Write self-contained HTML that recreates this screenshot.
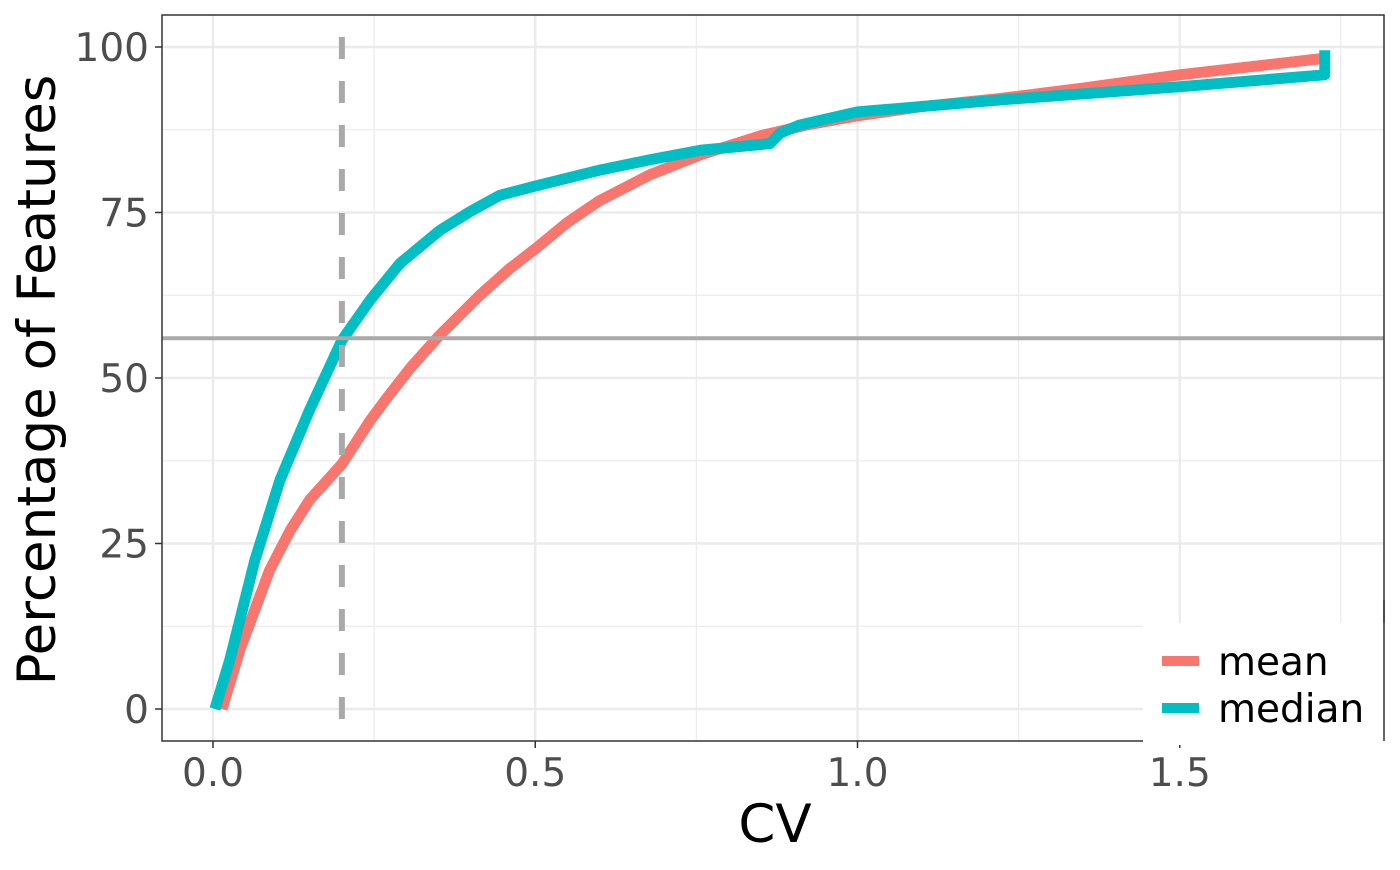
<!DOCTYPE html>
<html><head><meta charset="utf-8"><style>
body{margin:0;background:#fff;}
svg text{font-family:"DejaVu Sans","Liberation Sans",sans-serif;}
</style></head><body>
<svg width="1400" height="865" id="chart">
<g id="grid"></g>
<g id="lines"></g>
<rect x="162" y="15" width="1222" height="726" fill="none" stroke="#333" stroke-width="1.5"/>
<g id="axes"></g>
<g>
<rect x="1143" y="623" width="257" height="122" fill="#fff"/>
<line x1="1384" y1="600" x2="1384" y2="741" stroke="#333" stroke-width="1.5"/>
<line x1="1162" y1="661" x2="1199" y2="661" stroke="#F8766D" stroke-width="10"/>
<text x="1218" y="675" font-size="39">mean</text>
<line x1="1162" y1="708" x2="1199" y2="708" stroke="#00BFC4" stroke-width="10"/>
<text x="1218" y="722" font-size="39">median</text>
</g>
<text x="775" y="842" font-size="53" text-anchor="middle">CV</text>
<text transform="translate(55,380) rotate(-90)" font-size="53" text-anchor="middle">Percentage of Features</text>
</svg>
<script>
const xTicks=[0,0.5,1.0,1.5];
const xTickLabels=["0.0","0.5","1.0","1.5"];
const yTicks=[0,25,50,75,100];
const yTickLabels=["0","25","50","75","100"];
const meanCV=[0.014,0.042,0.088,0.12,0.15,0.2,0.244,0.27,0.306,0.352,0.414,0.46,0.5,0.55,0.6,0.678,0.756,0.85,0.92,1.0,1.1,1.22,1.35,1.5,1.725];
const meanPct=[0,9,21,27,31.6,37,43.6,47,51.5,56.5,62.5,66.5,69.5,73.5,76.8,80.7,83.7,86.6,88.2,89.6,91,92.2,93.8,95.8,98.3];
const medianCV=[0.003,0.026,0.065,0.104,0.15,0.2,0.244,0.29,0.352,0.4,0.445,0.5,0.6,0.68,0.756,0.864,0.88,0.91,1.0,1.22,1.5,1.725,1.725];
const medianPct=[0,7.4,22.5,34.6,45.2,55.7,61.8,67.3,72.3,75.2,77.6,79,81.4,83,84.4,85.4,87,88.2,90.2,92,94,95.8,99.5];
const cvThreshold=0.2, pctThreshold=56;
const X=v=>213+v*644.5, Y=v=>709-v*6.62;
const NS="http://www.w3.org/2000/svg";
function mk(tag,parent,attrs){const e=document.createElementNS(NS,tag);for(const k in attrs)e.setAttribute(k,attrs[k]);parent.appendChild(e);return e;}
const grid=document.getElementById('grid'),lines=document.getElementById('lines'),axes=document.getElementById('axes');
[0.25,0.75,1.25,1.75].forEach(v=>{const l=mk('line',grid,{x1:X(v),x2:X(v),y1:15,y2:741,stroke:'#ebebeb','stroke-width':1.2});

});
[12.5,37.5,62.5,87.5].forEach(v=>{const l=mk('line',grid,{x1:162,x2:1384,y1:Y(v),y2:Y(v),stroke:'#ebebeb','stroke-width':1.2});

});
xTicks.forEach((v,i)=>{const l=mk('line',grid,{x1:X(v),x2:X(v),y1:15,y2:741,stroke:'#ebebeb','stroke-width':2.4});


const t=mk('line',axes,{x1:X(v),x2:X(v),y1:741,y2:748,stroke:'#333','stroke-width':1.5});


const tx=mk('text',axes,{x:X(v),y:786,'font-size':39,fill:'#4d4d4d','text-anchor':'middle'});tx.textContent=xTickLabels[i];

});
yTicks.forEach((v,i)=>{const l=mk('line',grid,{x1:162,x2:1384,y1:Y(v),y2:Y(v),stroke:'#ebebeb','stroke-width':2.4});


const t=mk('line',axes,{x1:155,x2:162,y1:Y(v),y2:Y(v),stroke:'#333','stroke-width':1.5});


const tx=mk('text',axes,{x:149,y:Y(v)+14,'font-size':39,fill:'#4d4d4d','text-anchor':'end'});tx.textContent=yTickLabels[i];

});
function path(xs,ys,color,name){const d=xs.map((x,i)=>(i?'L':'M')+X(x)+','+Y(ys[i])).join(' ');
const p=mk('path',lines,{d:d,fill:'none',stroke:color,'stroke-width':11,'stroke-linejoin':'round'});

}
path(meanCV,meanPct,'#F8766D','mean-line');
path(medianCV,medianPct,'#00BFC4','median-line');
const vl=mk('line',lines,{x1:X(cvThreshold),x2:X(cvThreshold),y1:37,y2:741,stroke:'#a9a9a9','stroke-width':6,'stroke-dasharray':'22,22'});


const hl=mk('line',lines,{x1:162,x2:1384,y1:Y(pctThreshold),y2:Y(pctThreshold),stroke:'#a9a9a9','stroke-width':4});


</script>
</body></html>
